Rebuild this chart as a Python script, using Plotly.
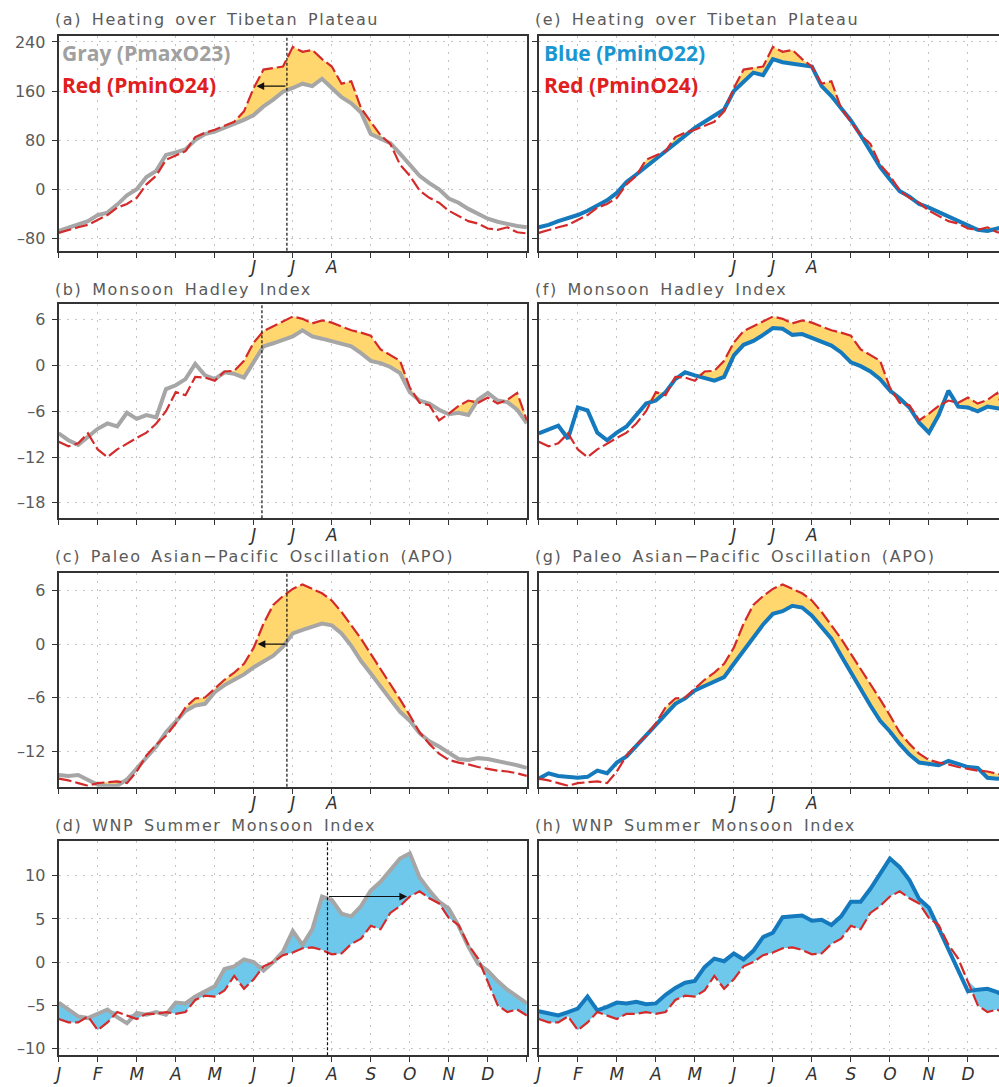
import plotly.graph_objects as go

# ---------------- data (x in months since 1 Jan, sampled every quarter month) -------------
MONTH_POS = [i * 0.25 for i in range(49)]
MONTH_TICKS = list(range(13))
MONTH_LABELS = ["J", "F", "M", "A", "M", "J", "J", "A", "S", "O", "N", "D", ""]
JJA_LABELS = ["", "", "", "", "", "J", "J", "A", "", "", "", "", ""]

# (a)/(e) Heating over Tibetan Plateau
heat_red = [-71, -66, -62, -58, -50, -42, -30, -24, -14, 8, 22, 48, 55, 62, 85, 92, 97, 104, 110, 127,
            165, 195, 198, 200, 232, 224, 227, 212, 200, 172, 176, 132, 110, 88, 74, 40, 22, -2, -14,
            -22, -35, -44, -52, -56, -64, -66, -62, -70, -72]
heat_gray = [-68, -63, -58, -52, -42, -38, -25, -10, 0, 20, 30, 56, 60, 65, 80, 90, 94, 100, 106, 113,
             121, 135, 146, 159, 165, 172, 168, 180, 165, 150, 140, 125, 90, 82, 75, 58, 40, 22, 10,
             0, -15, -22, -32, -40, -48, -53, -57, -60, -62]
heat_blue = [-62, -58, -52, -47, -42, -35, -27, -18, -6, 12, 24, 37, 50, 63, 76, 89, 100, 110, 120, 130,
             160, 174, 190, 186, 212, 207, 205, 202, 200, 168, 152, 132, 112, 88, 62, 36, 16, -3, -12,
             -24, -30, -37, -44, -51, -58, -66, -68, -63, -60]

# (b)/(f) Monsoon Hadley Index
hadley_red = [-10.0, -10.6, -10.2, -8.9, -11.0, -12.0, -11.0, -10.2, -9.5, -8.8, -7.6, -6.0, -3.5, -3.9,
              -1.5, -1.6, -2.0, -0.8, -0.7, 0.6, 3.0, 4.5, 5.1, 5.7, 6.4, 6.1, 5.5, 5.9, 5.6, 5.1, 4.6,
              4.3, 3.9, 2.1, 1.4, 0.6, -2.9, -4.9, -5.2, -7.2, -6.3, -5.3, -4.6, -4.9, -4.2, -5.0, -4.5,
              -3.6, -7.2]
hadley_gray = [-8.9, -9.8, -10.4, -9.4, -8.3, -7.6, -8.0, -6.2, -7.0, -6.5, -6.8, -3.1, -2.6, -1.8, 0.2,
               -1.3, -1.8, -0.9, -1.1, -1.6, 0.5, 2.5, 2.9, 3.4, 3.8, 4.6, 3.8, 3.5, 3.2, 2.9, 2.5, 1.6,
               0.6, 0.3, -0.2, -1.0, -3.5, -4.6, -5.0, -5.8, -6.4, -6.2, -6.5, -4.5, -3.6, -4.6, -4.8,
               -5.8, -7.6]
hadley_blue = [-8.9, -8.4, -7.9, -9.6, -5.5, -5.9, -8.8, -9.8, -8.8, -8.0, -6.4, -5.0, -4.6, -3.5, -1.8,
               -0.9, -1.3, -1.6, -2.0, -1.5, 1.3, 2.7, 3.2, 4.0, 4.9, 4.8, 4.0, 4.1, 3.6, 3.1, 2.6, 1.7,
               0.4, -0.1, -0.8, -1.8, -3.3, -4.3, -5.5, -7.5, -8.8, -6.5, -3.3, -5.4, -5.5, -6.0, -5.4,
               -5.6, -5.8]

# (c)/(g) Paleo Asian-Pacific Oscillation
apo_red = [-15.1, -15.3, -15.6, -15.9, -15.6, -15.5, -15.4, -15.6, -14.3, -12.5, -11.3, -10.3, -8.9, -7.1,
           -6.1, -6.0, -5.0, -4.0, -3.2, -2.2, -0.4, 2.3, 4.4, 5.4, 6.2, 6.7, 6.2, 5.7, 4.9, 3.6, 2.1, 0.6,
           -1.1, -2.8, -4.4, -6.2, -8.0, -9.9, -11.2, -12.3, -13.0, -13.3, -13.5, -13.8, -14.0, -14.2,
           -14.3, -14.5, -14.8]
apo_gray = [-14.7, -14.8, -14.7, -15.3, -15.8, -15.9, -15.9, -15.2, -14.0, -12.8, -11.5, -9.9, -8.7, -7.5,
            -6.9, -6.7, -5.4, -4.6, -4.0, -3.4, -2.6, -1.9, -1.3, -0.3, 1.2, 1.6, 2.0, 2.3, 2.1, 1.2, -0.2,
            -1.9, -3.3, -4.8, -6.2, -7.6, -8.6, -10.0, -10.9, -11.5, -12.2, -12.9, -13.0, -12.8, -12.9,
            -13.1, -13.3, -13.6, -13.9]
apo_blue = [-15.1, -14.5, -14.8, -14.9, -15.0, -14.9, -14.2, -14.5, -13.3, -12.6, -11.4, -10.3, -9.1, -7.8,
            -6.7, -6.1, -5.2, -4.7, -4.2, -3.7, -2.2, -0.7, 0.7, 2.2, 3.4, 3.7, 4.3, 4.1, 3.2, 1.9, 0.6,
            -1.3, -3.2, -5.0, -6.9, -8.6, -9.8, -11.2, -12.4, -13.3, -13.4, -13.6, -13.1, -13.4, -13.8,
            -13.9, -15.0, -15.1, -15.0]

# (d)/(h) WNP Summer Monsoon Index
wnp_red = [-6.6, -7.0, -7.0, -6.3, -7.9, -7.0, -5.8, -6.2, -6.6, -6.0, -6.0, -5.8, -6.0, -5.8, -4.4, -3.9,
           -4.0, -3.3, -1.6, -3.1, -2.0, -0.5, 0.0, 0.8, 1.1, 1.6, 1.7, 1.4, 0.9, 1.0, 2.1, 2.7, 4.2, 3.8,
           5.7, 6.5, 7.6, 8.2, 7.4, 6.8, 5.1, 4.3, 2.0, 0.4, -2.2, -5.0, -5.8, -5.5, -6.2]
wnp_gray = [-4.7, -5.5, -6.3, -6.5, -6.0, -5.5, -6.4, -7.1, -5.9, -6.1, -5.8, -6.1, -4.7, -4.8, -4.0, -3.4,
            -2.8, -0.8, -0.5, 0.3, 0.0, -1.0, 0.0, 1.2, 3.6, 2.0, 3.8, 7.6, 7.2, 5.6, 5.3, 6.5, 8.3, 9.3,
            10.6, 12.0, 12.6, 9.8, 8.3, 7.0, 6.2, 4.2, 1.8, -0.2, -1.0, -2.2, -3.2, -4.0, -4.8]
wnp_blue = [-5.7, -5.9, -6.2, -5.8, -5.4, -4.0, -5.6, -5.2, -4.7, -4.8, -4.6, -4.9, -4.8, -3.8, -3.0, -2.4,
            -2.2, -0.6, 0.4, 0.1, 1.0, 0.3, 1.3, 2.9, 3.4, 5.2, 5.3, 5.4, 4.8, 4.9, 4.3, 5.3, 7.0, 7.0,
            8.5, 10.2, 12.0, 11.0, 9.5, 7.3, 6.3, 3.9, 1.5, -1.1, -3.4, -3.2, -3.1, -3.5, -4.0]

# onset markers (dashed line month position, arrow start/end/level) for left column
onset_line = {"a": 5.85, "b": 5.21, "c": 5.85, "d": 6.89}
arrows = {"a": (5.85, 5.07, 168), "c": (5.85, 5.1, 0.0), "d": (6.89, 8.93, 7.6)}

# ---------------- styling ----------------
W, H = 999, 1087
RED = "#D42A2A"
GRAY = "#A6A6A6"
BLUE = "#1479BD"
YELLOW = "#FFD76E"
LBLUE = "#6DC8EC"
FRAME = "#333333"
TXT = "#5A5A5A"
GRID = "#C4C4C4"

LEFT_X = (53, 524)
RIGHT_X = (536, 1007)
ROWS_Y = [(33, 249), (303, 518), (573, 788), (843, 1058)]

panels = [
    # letter, col, row, title, other series, red series, other color, fill color, fill where red above
    ("a", 0, 0, "Heating over Tibetan Plateau", heat_gray, heat_red, GRAY, YELLOW, True),
    ("b", 0, 1, "Monsoon Hadley Index", hadley_gray, hadley_red, GRAY, YELLOW, True),
    ("c", 0, 2, "Paleo Asian−Pacific Oscillation (APO)", apo_gray, apo_red, GRAY, YELLOW, True),
    ("d", 0, 3, "WNP Summer Monsoon Index", wnp_gray, wnp_red, GRAY, LBLUE, False),
    ("e", 1, 0, "Heating over Tibetan Plateau", heat_blue, heat_red, BLUE, YELLOW, True),
    ("f", 1, 1, "Monsoon Hadley Index", hadley_blue, hadley_red, BLUE, YELLOW, True),
    ("g", 1, 2, "Paleo Asian−Pacific Oscillation (APO)", apo_blue, apo_red, BLUE, YELLOW, True),
    ("h", 1, 3, "WNP Summer Monsoon Index", wnp_blue, wnp_red, BLUE, LBLUE, False),
]

Y_SETUP = [
    ([-100, 250], [-80, 0, 80, 160, 240]),
    ([-20, 8], [-18, -12, -6, 0, 6]),
    ([-16, 8], [-12, -6, 0, 6]),
    ([-10.8, 14], [-10, -5, 0, 5, 10]),
]


def fmt_tick(v):
    return ("–%g" % -v) if v < 0 else "%g" % v


fig = go.Figure()
layout = {}
annotations = []
shapes = []

px_per_month = (LEFT_X[1] - LEFT_X[0]) / 12.0

for i, (letter, col, row, title, other, red, ocolor, fcolor, red_above) in enumerate(panels):
    n = i + 1
    xa = "x" if n == 1 else f"x{n}"
    ya = "y" if n == 1 else f"y{n}"
    xkey = "xaxis" if n == 1 else f"xaxis{n}"
    ykey = "yaxis" if n == 1 else f"yaxis{n}"

    top_vals = [max(r, o) for r, o in zip(red, other)]
    base = other if red_above else red

    fig.add_trace(go.Scatter(x=MONTH_POS, y=base, mode="lines", line=dict(width=0, color=fcolor),
                             xaxis=xa, yaxis=ya, showlegend=False, hoverinfo="skip"))
    fig.add_trace(go.Scatter(x=MONTH_POS, y=top_vals, mode="lines", line=dict(width=0, color=fcolor),
                             fill="tonexty", fillcolor=fcolor,
                             xaxis=xa, yaxis=ya, showlegend=False, hoverinfo="skip"))
    fig.add_trace(go.Scatter(x=MONTH_POS, y=other, mode="lines", line=dict(width=4, color=ocolor),
                             xaxis=xa, yaxis=ya, showlegend=False))
    fig.add_trace(go.Scatter(x=MONTH_POS, y=red, mode="lines",
                             line=dict(width=2.2, color=RED, dash="13px,4px"),
                             xaxis=xa, yaxis=ya, showlegend=False))

    px0, px1 = LEFT_X if col == 0 else RIGHT_X
    x_dom = [px0 / W, min(px1, W) / W]
    x_max = (min(px1, W) - px0) / px_per_month
    yt, yb = ROWS_Y[row]
    y_dom = [1 - yb / H, 1 - yt / H]
    yrange, yticks = Y_SETUP[row]

    tick_text = MONTH_LABELS if row == 3 else JJA_LABELS
    layout[xkey] = dict(
        domain=x_dom, range=[0, x_max], anchor=ya,
        tickmode="array", tickvals=MONTH_TICKS, ticktext=["<i>%s</i>" % t if t else "" for t in tick_text],
        ticks="outside", ticklen=5, tickwidth=1, tickcolor=FRAME,
        ticklabelstandoff=(-3 if row == 3 else -5),
        tickfont=dict(family="DejaVu Sans", size=17, color="#333333"),
        showline=True, linecolor=FRAME, linewidth=2, mirror=True,
        showgrid=True, gridcolor=GRID, gridwidth=1.3, griddash="2px,6px",
        zeroline=False, fixedrange=True,
    )
    layout[ykey] = dict(
        domain=y_dom, range=yrange, anchor=xa,
        tickmode="array", tickvals=yticks, ticktext=[fmt_tick(v) for v in yticks],
        ticks="outside", ticklen=5, tickwidth=1, tickcolor=FRAME,
        ticklabelstandoff=3,
        showticklabels=(col == 0),
        tickfont=dict(family="DejaVu Sans", size=16, color=TXT),
        showline=True, linecolor=FRAME, linewidth=2, mirror=(col == 0),
        showgrid=True, gridcolor=GRID, gridwidth=1.3, griddash="2px,6px",
        zeroline=False, fixedrange=True,
    )

    # panel title
    title_y = {0: 17, 1: 288, 2: 557, 3: 827}[row]
    annotations.append(dict(
        text=f"<span style='letter-spacing:1.6px;word-spacing:3px'>({letter}) {title}</span>",
        x=(px0 - 6) / W, y=1 - title_y / H, xref="paper", yref="paper",
        xanchor="left", yanchor="middle", showarrow=False,
        font=dict(family="DejaVu Sans", size=16, color=TXT)))

    # onset dashed line + arrow
    if letter in onset_line:
        xv = onset_line[letter]
        shapes.append(dict(type="line", xref=xa, yref=f"{ya} domain", x0=xv, x1=xv, y0=0, y1=1,
                           line=dict(color="#111111", width=1.2, dash="3px,2px")))
    if letter in arrows:
        xs, xe, yv = arrows[letter]
        annotations.append(dict(
            x=xe, y=yv, ax=xs, ay=yv, xref=xa, yref=ya, axref=xa, ayref=ya, text="",
            showarrow=True, arrowhead=2, arrowsize=1.4, arrowwidth=1.1, arrowcolor="#111111",
            standoff=0, startstandoff=0))

# legend-style labels
legend_font = "Open Sans"
annotations += [
    dict(text="<b>Gray (PmaxO23)</b>", x=54 / W, y=1 - 50 / H, xref="paper", yref="paper",
         xanchor="left", yanchor="middle", showarrow=False,
         font=dict(family=legend_font, size=21, color="#A0A0A0")),
    dict(text="<b>Red (PminO24)</b>", x=54 / W, y=1 - 82 / H, xref="paper", yref="paper",
         xanchor="left", yanchor="middle", showarrow=False,
         font=dict(family=legend_font, size=21, color="#E0201E")),
    dict(text="<b>Blue (PminO22)</b>", x=539 / W, y=1 - 50 / H, xref="paper", yref="paper",
         xanchor="left", yanchor="middle", showarrow=False,
         font=dict(family=legend_font, size=21, color="#1A96D2")),
    dict(text="<b>Red (PminO24)</b>", x=539 / W, y=1 - 82 / H, xref="paper", yref="paper",
         xanchor="left", yanchor="middle", showarrow=False,
         font=dict(family=legend_font, size=21, color="#E0201E")),
]

fig.update_layout(
    width=W, height=H, margin=dict(l=0, r=0, t=0, b=0),
    paper_bgcolor="white", plot_bgcolor="white",
    showlegend=False, annotations=annotations, shapes=shapes,
    **layout,
)

fig.write_html(
    "out.html",
    config={"displayModeBar": False},
    post_script="document.body.style.margin='0';document.body.style.padding='0';"
                "document.documentElement.style.overflow='hidden';document.body.style.overflow='hidden';",
)
